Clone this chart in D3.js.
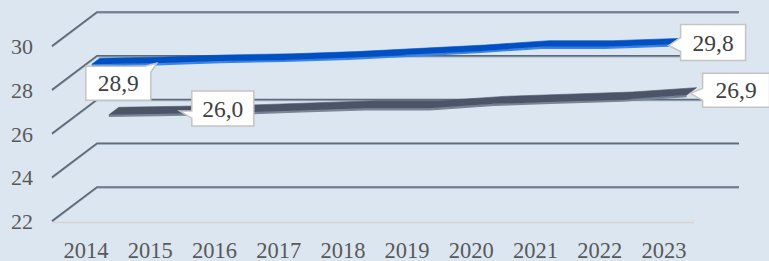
<!DOCTYPE html>
<html>

<head>
    <title>Line 3D</title>
    <script src="https://cdn.jsdelivr.net/npm/d3@7"></script>
    <style>
        body { margin: 0; background: #dce6f0; }
        text { font-family: "Liberation Serif", "Times New Roman", serif; }
    </style>
</head>

<body>
    <svg width="769" height="261" id="mainsvg"></svg>
    <script>
        // data
        const years = ['2014', '2015', '2016', '2017', '2018', '2019', '2020', '2021', '2022', '2023'];
        const seriesBlue = [28.9, 28.95, 29.05, 29.1, 29.2, 29.35, 29.5, 29.7, 29.7, 29.8];
        const seriesDark = [26.0, 26.05, 26.1, 26.2, 26.3, 26.3, 26.5, 26.6, 26.7, 26.9];
        const yTicks = [22, 24, 26, 28, 30];
        const labelsBlue = { first: '28,9', last: '29,8' };
        const labelsDark = { first: '26,0', last: '26,9' };

        const svg = d3.select('svg');
        const width = +svg.attr('width');
        const height = +svg.attr('height');

        svg.append('rect').attr('width', width).attr('height', height).attr('fill', '#dce6f0');

        // front plane scales + depth offset for the fake 3d
        const x = d3.scaleBand().domain(years).range([52, 694]);
        const y = d3.scaleLinear().domain([22, 30]).range([221, 46]);
        const DX = 45, DY = -34;
        const proj = (xf, yf, t) => [xf + DX * t, yf + DY * t];
        const cx = (i) => x(years[i]) + x.bandwidth() / 2;

        // gridlines: diagonal on the left side wall + horizontal on the back wall
        const grid = svg.append('g');
        yTicks.forEach(v => {
            const [bx, by] = proj(52, y(v), 1);
            const [ex] = proj(694, y(v), 1);
            grid.append('path')
                .attr('d', `M52,${y(v) + 1} L${bx},${by + 1} H${ex}`)
                .attr('fill', 'none').attr('stroke', '#9fb0c2').attr('stroke-width', 1.5);
            grid.append('path')
                .attr('d', `M52,${y(v)} L${bx},${by} H${ex}`)
                .attr('fill', 'none').attr('stroke', '#5f6a78').attr('stroke-width', 1.6);
        });
        // floor front edge
        grid.append('line')
            .attr('x1', 52).attr('x2', 694).attr('y1', y(22) + 1.5).attr('y2', y(22) + 1.5)
            .attr('stroke', '#d6d4cf').attr('stroke-width', 1.5);

        // y labels
        svg.selectAll('.ylab').data(yTicks).join('text').attr('class', 'ylab')
            .attr('x', 33).attr('y', d => y(d) + 8)
            .attr('text-anchor', 'end').attr('font-size', 22).attr('fill', '#595959')
            .text(d => d);

        // x labels
        svg.selectAll('.xlab').data(years).join('text').attr('class', 'xlab')
            .attr('x', d => x(d) + x.bandwidth() / 2 + 2).attr('y', 258)
            .attr('text-anchor', 'middle').attr('font-size', 22.5).attr('fill', '#595959')
            .text(d => d);

        // ribbons
        function ribbon(values, t0, t1, top, side) {
            const front = values.map((v, i) => proj(cx(i), y(v), t0));
            const back = values.map((v, i) => proj(cx(i), y(v), t1));
            const g = svg.append('g');
            // side face just below the front edge
            g.append('path')
                .attr('d', d3.line()(front.map(p => [p[0], p[1] + 1.2])))
                .attr('fill', 'none').attr('stroke', side).attr('stroke-width', 2);
            g.append('path')
                .attr('d', 'M' + front.join('L') + 'L' + back.slice().reverse().join('L') + 'Z')
                .attr('fill', top).attr('stroke', top).attr('stroke-width', 0.6);
            return values.map((v, i) => proj(cx(i), y(v), (t0 + t1) / 2));
        }

        const ptsBlue = ribbon(seriesBlue, 0.17, 0.35, '#0050c4', '#3a86e8');
        const ptsDark = ribbon(seriesDark, 0.55, 0.77, '#4b5567', '#7a8595');

        // data callouts
        function callout(box, tip, attach, text) {
            const [bx, by, w, h] = box;
            let pts;
            if (attach.side === 'top') {
                pts = [[bx, by], [bx + w - attach.a, by], tip, [bx + w, by + attach.b], [bx + w, by + h], [bx, by + h]];
            } else {
                pts = [[bx, by], [bx + w, by], [bx + w, by + h], [bx, by + h], [bx, by + attach.b], tip, [bx, by + attach.a]];
            }
            svg.append('path')
                .attr('d', 'M' + pts.join('L') + 'Z')
                .attr('fill', '#ffffff').attr('stroke', '#c4c4c4').attr('stroke-width', 1.5);
            svg.append('text')
                .attr('x', bx + w / 2).attr('y', by + h / 2 + 8)
                .attr('text-anchor', 'middle').attr('font-size', 23.5).attr('fill', '#404040')
                .text(text);
        }

        const n = years.length - 1;
        let p = ptsBlue[0];
        callout([p[0] - 10, p[1] + 5, 65, 34], [p[0] + 61, p[1] + 2], { side: 'top', a: 6, b: 6 }, labelsBlue.first);
        p = ptsDark[0];
        callout([p[0] + 78, p[1] - 20, 62, 35], [p[0] + 66, p[1]], { side: 'left', a: 20, b: 27 }, labelsDark.first);
        p = ptsBlue[n];
        callout([p[0] + 7, p[1] - 17, 65, 36], [p[0] - 5, p[1] + 4], { side: 'left', a: 13, b: 27 }, labelsBlue.last);
        p = ptsDark[n];
        callout([p[0] + 11, p[1] - 18, 67, 34], [p[0] - 1, p[1] + 2], { side: 'left', a: 15, b: 27 }, labelsDark.last);
    </script>
</body>

</html>
